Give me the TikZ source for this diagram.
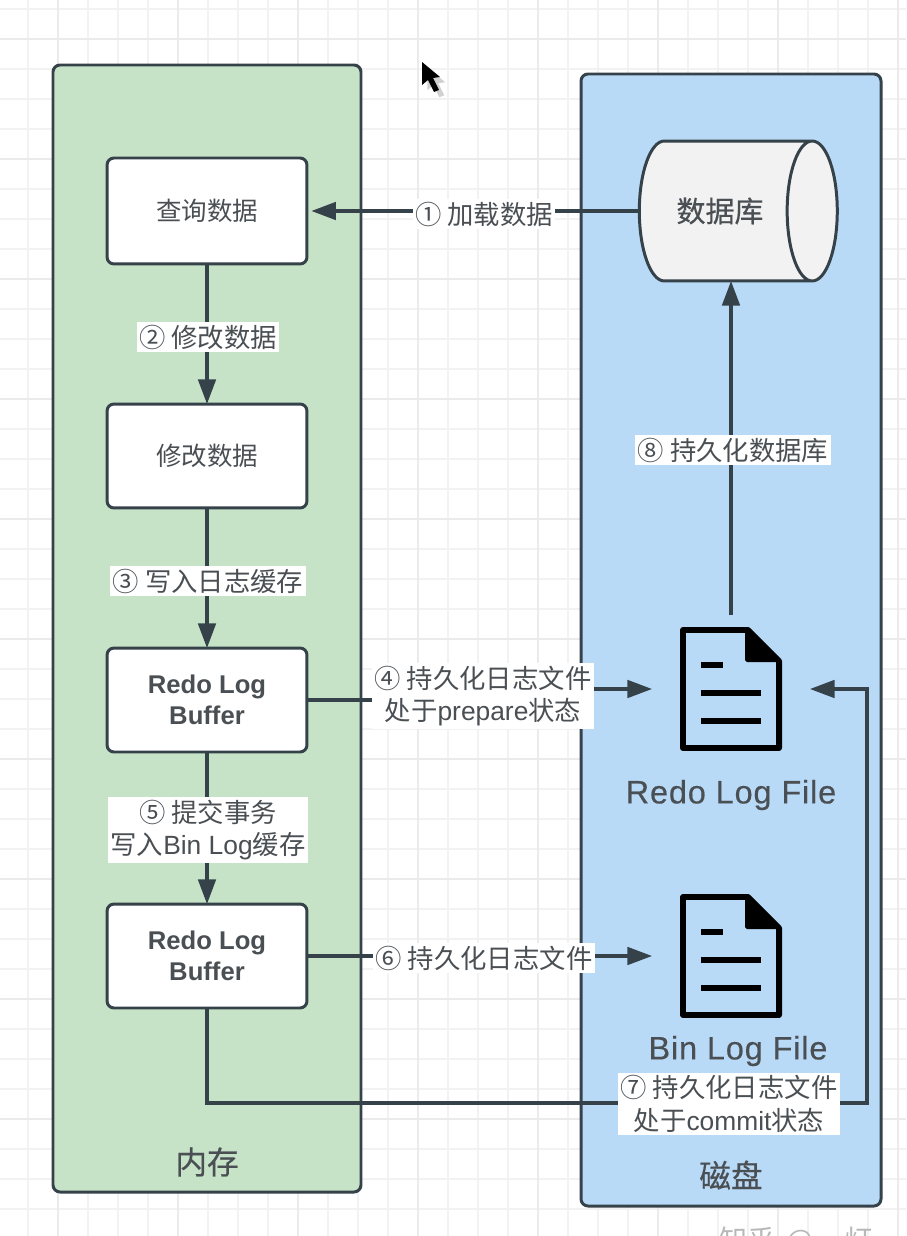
\documentclass[tikz,border=0pt]{standalone}
\usepackage{fontspec}
\setmainfont{Liberation Sans}
\newfontfamily\cjk{Noto Sans CJK SC}
\newfontfamily\cjkheavy[FakeBold=0.5]{Noto Sans CJK SC}
\newfontfamily\filefont[FakeBold=0.3,LetterSpace=2.5]{Liberation Sans}
\newcommand{\cn}[1]{{\cjk #1}}
\usetikzlibrary{arrows.meta,shapes.geometric}
\definecolor{memgreen}{HTML}{C6E3C8}
\definecolor{diskblue}{HTML}{B8DAF7}
\definecolor{edgeink}{HTML}{36424A}
\definecolor{textink}{HTML}{4A4F54}
\tikzset{
  panel/.style={draw=edgeink,line width=1.7pt,rounded corners=4pt},
  membox/.style={draw=edgeink,fill=white,line width=1.7pt,rounded corners=4pt,
    minimum width=4cm,align=center,text=textink,outer sep=0pt,
    font=\fontsize{14.5}{18}\selectfont},
  flow/.style={draw=edgeink,line width=1.75pt,-{Triangle[length=14pt,width=10pt]}},
  steplabel/.style={fill=white,text=textink,align=center,inner sep=1.5pt,
    font=\fontsize{15}{18.4}\selectfont},
  filemark/.style={minimum width=3.16cm,minimum height=2.96cm,inner sep=0pt,outer sep=0pt},
  filename/.style={text=textink,font=\fontsize{18.5}{22}\selectfont\filefont},
  paneltitle/.style={text=textink,font=\fontsize{18}{22}\selectfont\cjkheavy},
  docicon/.pic={
    \draw[black,line width=3.4pt,line join=round]
      (-48,-59) -- (17,-59) -- (48,-28) -- (48,59) -- (-48,59) -- cycle;
    \fill[black,rounded corners=1pt] (14,-61) -- (50,-27) -- (14,-27) -- cycle;
    \draw[black,line width=3.4pt] (-30,-24) -- (-8,-24) (-30,4) -- (30,4) (-30,32) -- (30,32);
  }
}
\begin{document}
\begin{tikzpicture}[x=0.02cm,y=-0.02cm]
  \useasboundingbox (0,0) rectangle (906,1236);
  \begin{scope}
    \clip (0,0) rectangle (906,1236);
    % paper grid
    \foreach \x in {28,58,...,898}
      \draw[black!5,line width=0.6pt] (\x,0) -- (\x,1236);
    \foreach \y in {9,39,...,1229}
      \draw[black!5,line width=0.6pt] (0,\y) -- (906,\y);
    \foreach \x in {58,178,...,898}
      \draw[black!8,line width=0.8pt] (\x,0) -- (\x,1236);
    \foreach \y in {39,159,...,1229}
      \draw[black!8,line width=0.8pt] (0,\y) -- (906,\y);
    % watermark, cut by the page edge
    \node[text=black!28,font=\fontsize{16}{18}\selectfont,anchor=west] (mark) at (713,1241) {\cn{知乎 \hspace{3pt}@ \hspace{14pt}灯}};
  \end{scope}

  \draw[panel,fill=memgreen] (53,65) rectangle (361,1192);
  \draw[panel,fill=diskblue] (581,74) rectangle (881,1206);
  \node[paneltitle] (memtitle) at (207,1162) {内存};
  \node[paneltitle] (disktitle) at (731,1175) {磁盘};

  \node[membox,minimum height=2.12cm] (query) at (207,211) {\cn{查询数据}};
  \node[membox,minimum height=2.08cm] (change) at (207,456) {\cn{修改数据}};
  \node[membox,minimum height=2.08cm,font=\fontsize{14.6}{18}\selectfont\bfseries] (redobuf) at (207,700) {Redo Log\\Buffer};
  \node[membox,minimum height=2.08cm,font=\fontsize{14.6}{18}\selectfont\bfseries] (binbuf) at (207,956) {Redo Log\\Buffer};

  \node[cylinder,draw=edgeink,line width=1.7pt,shape aspect=1.3,outer sep=0pt,
    cylinder uses custom fill,cylinder body fill=black!5,cylinder end fill=black!5,
    minimum width=2.8cm,minimum height=3.96cm,text=textink,
    font=\fontsize{16.5}{20}\selectfont\cjkheavy] (db) at (720,211) {数据库\hspace{22pt}};

  \node[filemark] (redofile) at (731,689) {};
  \node[filemark] (binfile) at (731,956) {};
  \pic at (redofile) {docicon};
  \pic at (binfile) {docicon};
  \node[filename] (redoname) at (731,795) {Redo Log File};
  \node[filename] (binname) at (738,1051) {Bin Log File};

  \coordinate (bend4) at (480,700);
  \coordinate (bend7a) at (207,1103);
  \coordinate (bend7b) at (867,1103);

  \draw[flow] (query) -- (change);
  \draw[flow] (change) -- (redobuf);
  \draw[flow] (redobuf) -- (binbuf);
  \draw[flow,shorten >=2.5pt] (db.west) -- (query.east);
  \draw[flow] (redobuf.east) -- (bend4) |- (redofile.west);
  \draw[flow] (binbuf.east) -- (binfile.west);
  \draw[flow] (binbuf.south) -- (bend7a) -- (bend7b) |- (redofile.east);
  \draw[flow] (redofile.north) -- (db.south -| redofile.north);

  \node[steplabel] (step1) at (484,214) {\cn{① 加载数据}};
  \node[steplabel] (step2) at (208,337) {\cn{② 修改数据}};
  \node[steplabel] (step3) at (208,581) {\cn{③ 写入日志缓存}};
  \node[steplabel] (step4) at (483,696) {\cn{④ 持久化日志文件}\\\cn{处于}prepare\cn{状态}};
  \node[steplabel] (step5) at (208,830) {\cn{⑤ 提交事务}\\\cn{写入}Bin Log\cn{缓存}};
  \node[steplabel] (step6) at (484,958) {\cn{⑥ 持久化日志文件}};
  \node[steplabel] (step7) at (729,1104) {\cn{⑦ 持久化日志文件}\\\cn{处于}commit\cn{状态}};
  \node[steplabel] (step8) at (733,450) {\cn{⑧ 持久化数据库}};

  % mouse pointer
  \fill[black!18,xshift=3,yshift=-3] (422,62) -- (422,85) -- (428,80) -- (434,92) -- (439,90) -- (433,78) -- (440,77) -- cycle;
  \fill[black] (422,62) -- (422,85) -- (428,80) -- (434,92) -- (439,90) -- (433,78) -- (440,77) -- cycle;
\end{tikzpicture}
\end{document}
